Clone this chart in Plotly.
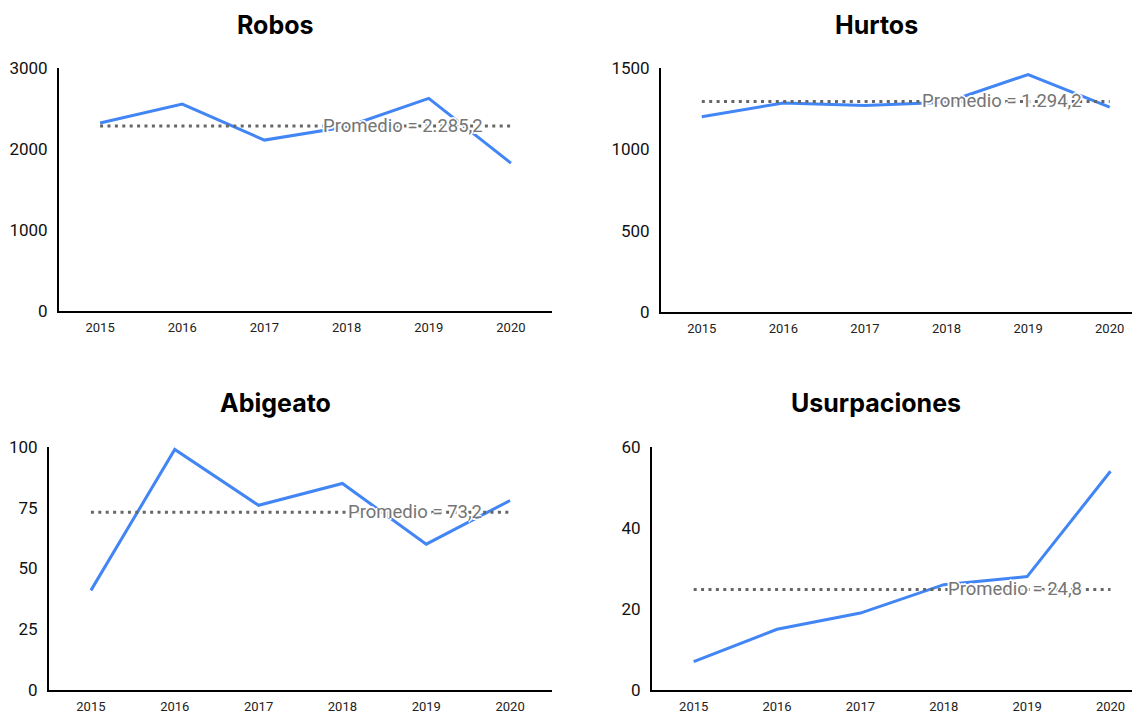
import plotly.graph_objects as go

# data
years = ["2015", "2016", "2017", "2018", "2019", "2020"]
robos = [2320, 2555, 2110, 2275, 2625, 1826]
hurtos = [1200, 1285, 1270, 1290, 1460, 1260]
abigeato = [41, 99, 76, 85, 60, 78]
usurpaciones = [7, 15, 19, 26, 28, 54]

titles = ["Robos", "Hurtos", "Abigeato", "Usurpaciones"]
series = [robos, hurtos, abigeato, usurpaciones]
y_max = [3000, 1500, 100, 60]
y_dtick = [1000, 500, 25, 20]

W, H = 1140, 714
OFF = 8  # page margin around the plot div
BLUE = "#4285F4"
GREY = "#666666"


def px_x(v):
    return (v - OFF) / W


def px_y(v):
    return 1 - (v - OFF) / H


# panel geometry in screen pixels: (left, right, top, bottom, x range end, title x, title y)
panels = [(59, 552, 68, 311, 5.5, 275, 25),
          (661, 1148, 68, 312, 5.47, 876, 25),
          (49, 552, 447, 690, 5.5, 275, 403),
          (652, 1148, 447, 690, 5.45, 876, 403)]


def fmt_es(v):
    s = f"{v:,.1f}"
    return s.replace(",", "X").replace(".", ",").replace("X", ".")


fig = go.Figure()
annotations = []
for i, (name, vals) in enumerate(zip(titles, series)):
    n = "" if i == 0 else str(i + 1)
    xa, ya = "x" + n, "y" + n
    mean = sum(vals) / len(vals)

    fig.add_trace(go.Scatter(x=years, y=vals, mode="lines", xaxis=xa, yaxis=ya,
                             line=dict(color=BLUE, width=3), showlegend=False))
    fig.add_trace(go.Scatter(x=years, y=[mean] * len(years), mode="lines", xaxis=xa, yaxis=ya,
                             line=dict(color=GREY, width=3, dash="3px,4.4px"), showlegend=False))

    left, right, top, bottom, xend, tx, ty = panels[i]
    fig.update_layout(**{
        "xaxis" + n: dict(domain=[px_x(left), min(px_x(right), 1)], anchor=ya, type="category",
                          range=[-0.5, xend], showline=True, linecolor="black", linewidth=2,
                          showgrid=False, zeroline=False, ticks="", ticklabelstandoff=3,
                          automargin=False,
                          tickfont=dict(family="Roboto", size=13, color="#222")),
        "yaxis" + n: dict(domain=[px_y(bottom), px_y(top)], anchor=xa,
                          range=[0, y_max[i]], dtick=y_dtick[i], showline=True,
                          linecolor="black", linewidth=2, showgrid=False, zeroline=False,
                          ticks="", ticklabelstandoff=6, automargin=False,
                          tickfont=dict(family="Roboto", size=17, color="#111")),
    })

    annotations.append(dict(x=len(years) - 1, y=mean, xref=xa, yref=ya, xanchor="right",
                            yanchor="middle", xshift=-26, showarrow=False,
                            text=f"Promedio = {fmt_es(mean)}",
                            font=dict(family="Roboto", size=18.5, color="#757575",
                                      shadow="2px 0 0 white, -2px 0 0 white, 0 2px 0 white, 0 -2px 0 white")))
    annotations.append(dict(x=px_x(tx), y=px_y(ty), xref="paper", yref="paper",
                            xanchor="center", yanchor="middle", showarrow=False,
                            text=f"<b>{name}</b>",
                            font=dict(family="Inter", size=25, weight=800, color="black")))

fig.update_layout(width=W, height=H, margin=dict(l=0, r=0, t=0, b=0, autoexpand=False),
                  plot_bgcolor="white", paper_bgcolor="white",
                  annotations=annotations)

fig.write_html("out.html")
